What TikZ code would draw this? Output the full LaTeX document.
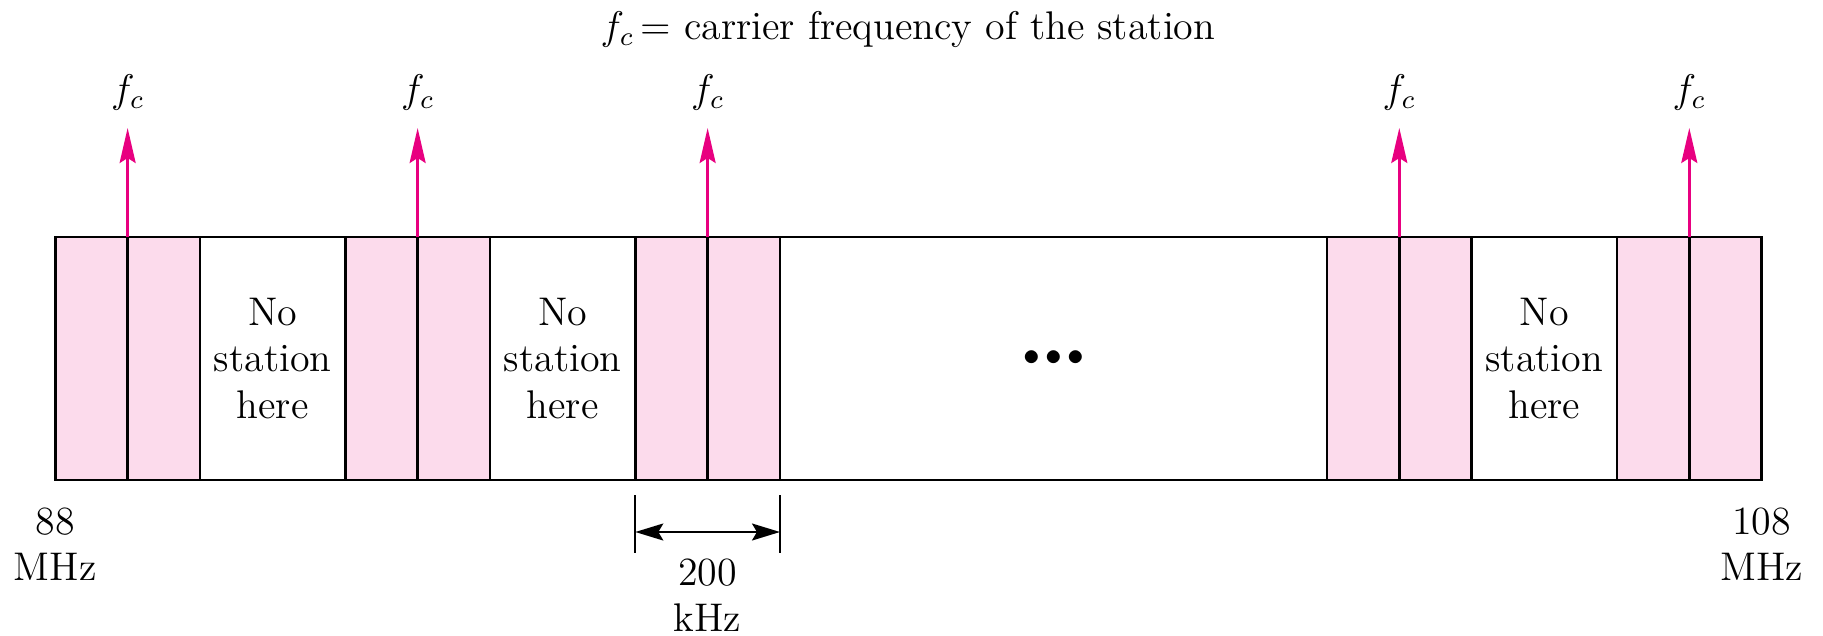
\documentclass[tikz,border=0pt]{standalone}
\usetikzlibrary{arrows.meta,positioning}
\definecolor{bandpink}{RGB}{252,219,236}
\definecolor{carrierpink}{RGB}{232,0,128}

\begin{document}
\begin{tikzpicture}[
	x=0.3pt, y=-0.3pt,
	font=\fontsize{12}{14}\selectfont,
	node distance=0pt,
	half/.style={draw=black, line width=0.75pt, fill=bandpink, outer sep=0pt, inner sep=0pt, minimum width=21.7pt, minimum height=72.9pt},
	empty/.style={half, fill=white, align=center, minimum width=43.6pt},
	flab/.style={inner sep=0pt},
	edgelab/.style={inner sep=0pt, align=center},
	carrier/.style={-{Stealth[length=10.5pt, width=4.8pt, inset=1.5pt]}, draw=carrierpink, line width=0.75pt, shorten >=5.2pt},
	span/.style={{Stealth[length=8.4pt, width=5.1pt, inset=1.5pt]}-{Stealth[length=8.4pt, width=5.1pt, inset=1.5pt]}, line width=0.6pt},
	tick/.style={line width=0.5pt}
	]
	\useasboundingbox (0,0) rectangle (1823,635);
	\node[flab, anchor=base] (title) at (908,40) {$f_c$\,= carrier frequency of the station};
	% the FM band, cell by cell
	\node[half, anchor=north west] (s1l) at (55.3,237) {};
	\node[half, right=of s1l] (s1r) {};
	\node[empty, right=of s1r] (n1) {No\\station\\here};
	\node[half, right=of n1] (s2l) {};
	\node[half, right=of s2l] (s2r) {};
	\node[empty, right=of s2r] (n2) {No\\station\\here};
	\node[half, right=of n2] (s3l) {};
	\node[half, right=of s3l] (s3r) {};
	\node[empty, right=of s3r, minimum width=164.1pt] (gap) {\fontsize{10}{12}\selectfont${\bullet}\kern1.6pt{\bullet}\kern1.6pt{\bullet}$};
	\node[half, right=of gap] (s4l) {};
	\node[half, right=of s4l] (s4r) {};
	\node[empty, right=of s4r] (n3) {No\\station\\here};
	\node[half, right=of n3] (s5l) {};
	\node[half, right=of s5l] (s5r) {};
	% carrier labels
	\node[flab, above=37.9pt of s1l.north east] (fc1) {$f_c$};
	\node[flab, above=37.9pt of s2l.north east] (fc2) {$f_c$};
	\node[flab, above=37.9pt of s3l.north east] (fc3) {$f_c$};
	\node[flab, above=37.9pt of s4l.north east] (fc4) {$f_c$};
	\node[flab, above=37.9pt of s5l.north east] (fc5) {$f_c$};
	\draw[carrier] (s1l.north east) -- (fc1);
	\draw[carrier] (s2l.north east) -- (fc2);
	\draw[carrier] (s3l.north east) -- (fc3);
	\draw[carrier] (s4l.north east) -- (fc4);
	\draw[carrier] (s5l.north east) -- (fc5);
	% band edges
	\node[edgelab, below=8.1pt of s1l.south west] (lo) {88\\MHz};
	\node[edgelab, below=8.1pt of s5r.south east] (hi) {108\\MHz};
	% channel width
	\coordinate[below=15.6pt of s3l.south west] (dl);
	\coordinate[below=15.6pt of s3r.south east] (dr);
	\draw[tick] ([yshift=11.1pt]dl) -- ([yshift=-6.3pt]dl);
	\draw[tick] ([yshift=11.1pt]dr) -- ([yshift=-6.3pt]dr);
	\draw[span] (dl) -- (dr);
	\node[edgelab, below=23.4pt of s3l.south east] (bw) {200\\kHz};
\end{tikzpicture}
\end{document}
